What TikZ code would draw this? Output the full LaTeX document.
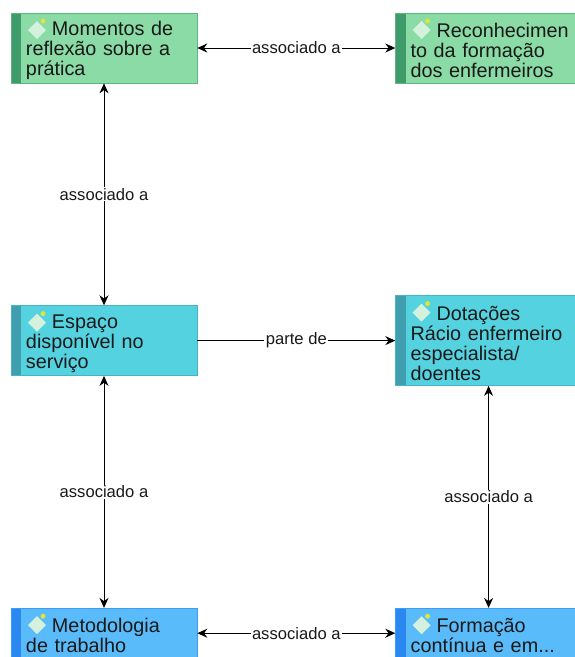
\documentclass[tikz,border=0pt]{standalone}
\usepackage{fontspec}
\setmainfont{Liberation Sans}
\usetikzlibrary{arrows.meta, positioning}

\definecolor{verde}{HTML}{8ADBA5}
\definecolor{verdefaixa}{HTML}{3F9B69}
\definecolor{ciano}{HTML}{55D2E0}
\definecolor{cianofaixa}{HTML}{3F9FAE}
\definecolor{azul}{HTML}{5ABBFA}
\definecolor{azulfaixa}{HTML}{2B88F0}

\newcommand{\titulo}[1]{\rule{0pt}{19pt}\hspace*{26pt}#1}

\begin{document}
\begin{tikzpicture}[
            % Styles
            conceito/.style 2 args={rectangle, draw=#2!60!#1, fill=#1, line width=0.6pt, minimum width=186pt, minimum height=70pt, inner xsep=0pt, inner ysep=0pt, text width=186pt, align=left, text=black!90, font=\fontsize{19.8}{20}\selectfont, execute at begin node={\leftskip=15pt},
                path picture={
                    \coordinate (nw) at (path picture bounding box.north west);
                    \fill[#2] (nw) rectangle ([xshift=10pt]path picture bounding box.south west);
                    \fill[white!62!verde] ([shift={(26pt,-8pt)}]nw) -- ([shift={(35pt,-17pt)}]nw) -- ([shift={(26pt,-26pt)}]nw) -- ([shift={(17pt,-17pt)}]nw) -- cycle;
                    \fill[yellow!70!verde] ([shift={(32pt,-8pt)}]nw) circle (2.5pt);
                }},
            relacao/.style={draw=black, line width=1pt, {Stealth[length=10pt,width=9pt]}-{Stealth[length=10pt,width=9pt]}},
            relacaoseta/.style={draw=black, line width=1pt, -{Stealth[length=10pt,width=9pt]}},
            rotulo/.style={fill=white, text=black!90, inner xsep=1.5pt, inner ysep=1pt, font=\fontsize{16.6}{18}\selectfont}
        ]
        \useasboundingbox (0,0) rectangle (575pt,-657pt);

        % Nodes
        \node [conceito={verde}{verdefaixa}] (momentos) at (104pt,-48pt) {\titulo{Momentos de}\\reflexão sobre a\\prática};
        \node [conceito={verde}{verdefaixa}, right=198pt of momentos] (reconhecimento) {\titulo{Reconhecimen}\\to da formação\\dos enfermeiros};
        \node [conceito={ciano}{cianofaixa}, below=222pt of momentos] (espaco) {\titulo{Espaço}\\disponível no\\serviço};
        \node [conceito={ciano}{cianofaixa}, right=198pt of espaco, minimum height=90pt] (dotacoes) {\titulo{Dotações}\\Rácio enfermeiro\\especialista/\\doentes};
        \node [conceito={azul}{azulfaixa}, below=232pt of espaco, minimum height=50pt] (metodologia) {\titulo{Metodologia}\\de trabalho};
        \node [conceito={azul}{azulfaixa}, right=198pt of metodologia, minimum height=50pt] (formacao) {\titulo{Formação}\\contínua e em...};

        % Edges
        \draw [relacao] (momentos) -- node[rotulo] (r1) {associado a} (reconhecimento);
        \draw [relacao] (momentos) -- node[rotulo] (r2) {associado a} (espaco);
        \draw [relacaoseta] (espaco) -- node[rotulo] (r3) {parte de} (dotacoes);
        \draw [relacao] (espaco) -- node[rotulo] (r4) {associado a} (metodologia);
        \draw [relacao] (dotacoes) -- node[rotulo] (r5) {associado a} (formacao);
        \draw [relacao] (metodologia) -- node[rotulo] (r6) {associado a} (formacao);

    \end{tikzpicture}
\end{document}
